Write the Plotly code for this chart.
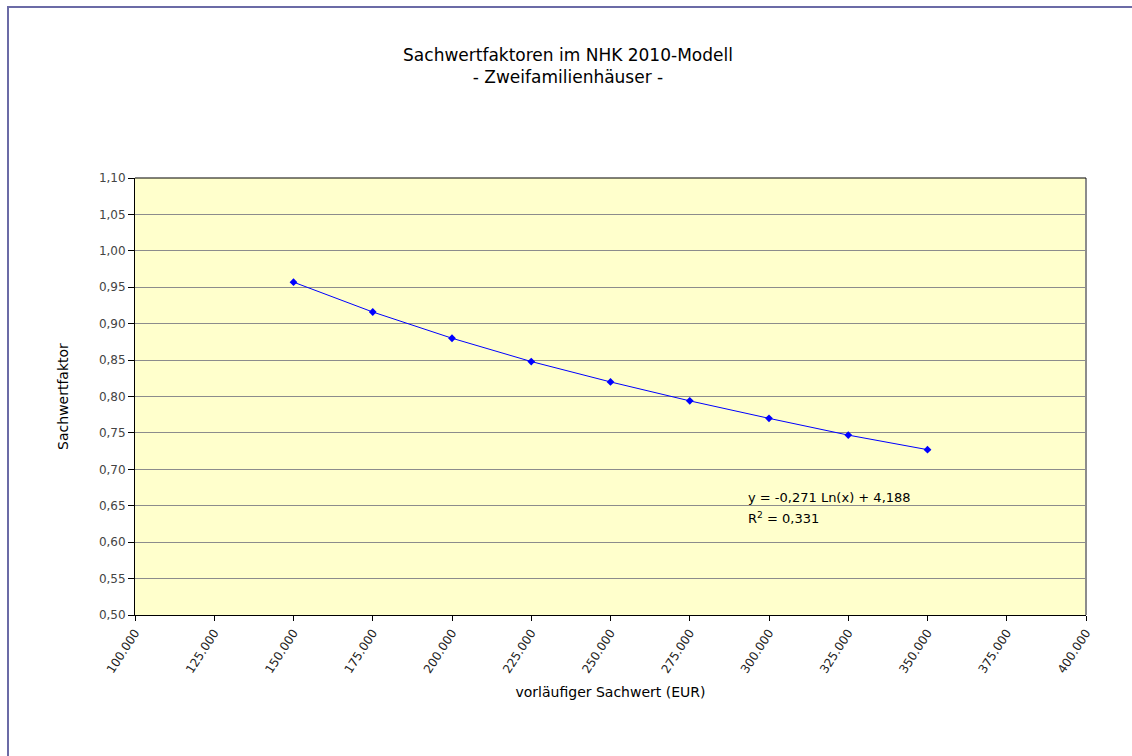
import plotly.graph_objects as go

x_values = [150000, 175000, 200000, 225000, 250000, 275000, 300000, 325000, 350000]
sachwertfaktor = [0.957, 0.916, 0.880, 0.848, 0.820, 0.794, 0.770, 0.747, 0.727]
x_ticks = [100000, 125000, 150000, 175000, 200000, 225000, 250000, 275000, 300000, 325000, 350000, 375000, 400000]
y_ticks = [0.50, 0.55, 0.60, 0.65, 0.70, 0.75, 0.80, 0.85, 0.90, 0.95, 1.00, 1.05, 1.10]
title_text = "Sachwertfaktoren im NHK 2010-Modell<br>- Zweifamilienhäuser -"
equation_text = "y = -0,271 Ln(x) + 4,188"
r2_text = "R<sup>2</sup> = 0,331"

FONT = "DejaVu Sans"

fig = go.Figure()
fig.add_trace(go.Scatter(
    x=x_values, y=sachwertfaktor, mode="lines+markers",
    line=dict(color="#0000FF", width=1),
    marker=dict(symbol="diamond", size=6, color="#0000FF"),
    showlegend=False, hoverinfo="x+y",
))

fig.update_layout(
    width=1132, height=756,
    margin=dict(l=135, r=46, t=178, b=141),
    paper_bgcolor="white",
    plot_bgcolor="#FFFFCC",
    separators=",.",
    font=dict(family=FONT, size=12, color="#000000"),
    title=dict(text=title_text, x=568 / 1132, xref="container", xanchor="center",
               y=1 - 61 / 756, yref="container", yanchor="top",
               font=dict(family=FONT, size=17, color="#000000")),
    xaxis=dict(range=[100000, 400000], tickvals=x_ticks, tickformat=",d",
               tickangle=-57, showgrid=False, zeroline=False,
               showline=True, linecolor="#000000", linewidth=1,
               ticks="outside", ticklen=5, tickcolor="#000000",
               tickfont=dict(family=FONT, size=12, color="#222222"),
               title=dict(text="vorläufiger Sachwert (EUR)", standoff=12,
                          font=dict(family=FONT, size=14, color="#000000"))),
    yaxis=dict(range=[0.50, 1.10], tickvals=y_ticks, tickformat=".2f",
               showgrid=True, gridcolor="#8C8C8C", gridwidth=1, zeroline=False,
               showline=True, linecolor="#000000", linewidth=1,
               ticks="outside", ticklen=6, tickcolor="#000000",
               tickfont=dict(family=FONT, size=12, color="#444444"),
               title=dict(text="Sachwertfaktor", standoff=26,
                          font=dict(family=FONT, size=14, color="#000000"))),
)

# plot area frame: right gray, top black
fig.add_shape(type="line", xref="paper", yref="paper", x0=1, x1=1, y0=0, y1=1,
              line=dict(color="#8C8C8C", width=2))
fig.add_shape(type="line", xref="paper", yref="paper", x0=0, x1=1, y0=1, y1=1,
              line=dict(color="#000000", width=1))
# outer chart border (extends past right and bottom edges)
fig.add_shape(type="rect", xref="paper", yref="paper",
              x0=(8 - 135) / 951, x1=1.2, y0=-0.5, y1=(615 - 7) / 437,
              line=dict(color="#6B6BA6", width=2), layer="below")

fig.add_annotation(x=292700, y=0.662, text=equation_text, showarrow=False,
                   xanchor="left", yanchor="middle",
                   font=dict(family=FONT, size=13, color="#000000"))
fig.add_annotation(x=292700, y=0.633, text=r2_text, showarrow=False,
                   xanchor="left", yanchor="middle",
                   font=dict(family=FONT, size=13, color="#000000"))

fig.write_html("out.html", config={"displayModeBar": False},
               post_script="document.body.style.margin='0';")
